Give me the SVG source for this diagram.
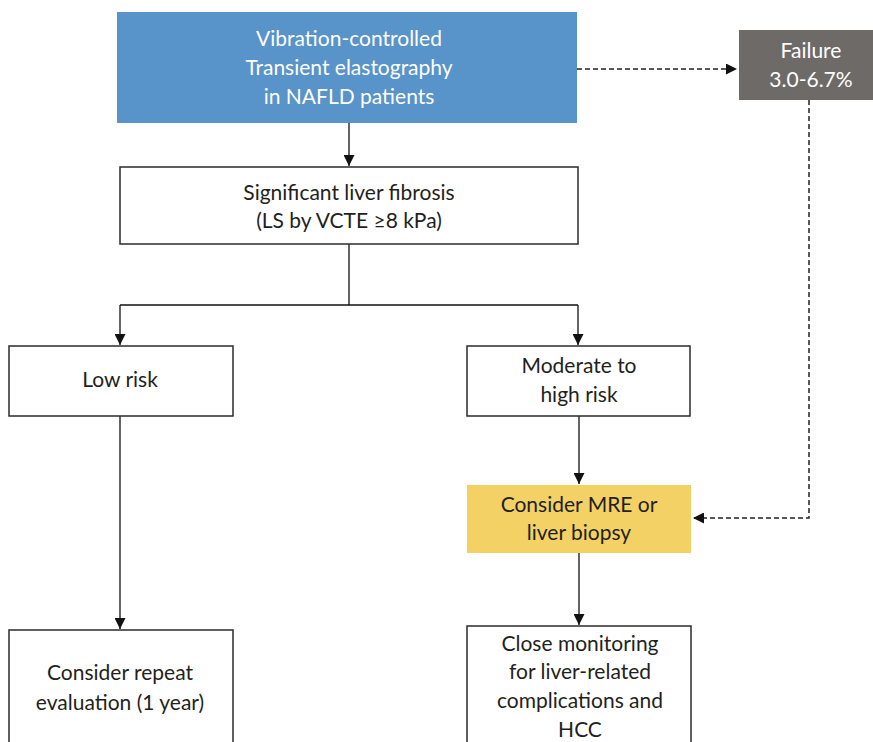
<svg xmlns="http://www.w3.org/2000/svg" width="873" height="742" viewBox="0 0 873 742">
<defs>
<marker id="ah" viewBox="0 0 10 10" refX="10" refY="5" markerWidth="11" markerHeight="11" markerUnits="userSpaceOnUse" orient="auto">
<path d="M0,0 L10,5 L0,10 z" fill="#111"/>
</marker>
<style>
.box{fill:#fff;stroke:#2b2b2b;stroke-width:1.5}
.t{font-family:Lato,"Open Sans",sans-serif;font-size:21px;fill:#231f20;text-anchor:middle}
.w{fill:#fff}
.c{fill:none;stroke:#111;stroke-width:1.3}
.d{fill:none;stroke:#222;stroke-width:1.5;stroke-dasharray:5,3}
</style>
</defs>
<rect width="873" height="742" fill="#fff"/>
<g id="connectors">
<path class="c" d="M349,123 V166" marker-end="url(#ah)"/>
<path class="c" d="M349,244 V305"/>
<path class="c" d="M120,305 H578"/>
<path class="c" d="M120,305 V345" marker-end="url(#ah)"/>
<path class="c" d="M578,305 V345" marker-end="url(#ah)"/>
<path class="c" d="M579,416 V484" marker-end="url(#ah)"/>
<path class="c" d="M120,416 V629" marker-end="url(#ah)"/>
<path class="c" d="M579,553 V625" marker-end="url(#ah)"/>
<path class="d" d="M577,69 H737" marker-end="url(#ah)"/>
<path class="d" d="M809,100 V518 H693" marker-end="url(#ah)"/>
</g>
<g id="vcte">
<rect x="117" y="12" width="460" height="111" fill="#5893c9"/>
<text class="t w" x="349" y="46">Vibration-controlled</text>
<text class="t w" x="349" y="75">Transient elastography</text>
<text class="t w" x="349" y="104">in NAFLD patients</text>
</g>
<g id="failure">
<rect x="739" y="30" width="134" height="70" fill="#6e6a68"/>
<text class="t w" x="811" y="58">Failure</text>
<text class="t w" x="811" y="87">3.0-6.7%</text>
</g>
<g id="fibrosis">
<rect class="box" x="120" y="167" width="458" height="77"/>
<text class="t" x="349" y="200">Significant liver fibrosis</text>
<text class="t" x="349" y="228">(LS by VCTE ≥8 kPa)</text>
</g>
<g id="low">
<rect class="box" x="9" y="346" width="224" height="70"/>
<text class="t" x="120" y="387">Low risk</text>
</g>
<g id="moderate">
<rect class="box" x="467" y="346" width="223" height="70"/>
<text class="t" x="579" y="373">Moderate to</text>
<text class="t" x="579" y="402">high risk</text>
</g>
<g id="mre">
<rect x="467" y="485" width="224" height="68" fill="#f3d165"/>
<text class="t" x="579" y="512">Consider MRE or</text>
<text class="t" x="579" y="540">liver biopsy</text>
</g>
<g id="repeat">
<rect class="box" x="9" y="630" width="224" height="130"/>
<text class="t" x="120" y="680">Consider repeat</text>
<text class="t" x="120" y="710">evaluation (1 year)</text>
</g>
<g id="monitor">
<rect class="box" x="467" y="626" width="224" height="130"/>
<text class="t" x="580" y="651">Close monitoring</text>
<text class="t" x="580" y="679">for liver-related</text>
<text class="t" x="580" y="708">complications and</text>
<text class="t" x="580" y="737">HCC</text>
</g>
</svg>
